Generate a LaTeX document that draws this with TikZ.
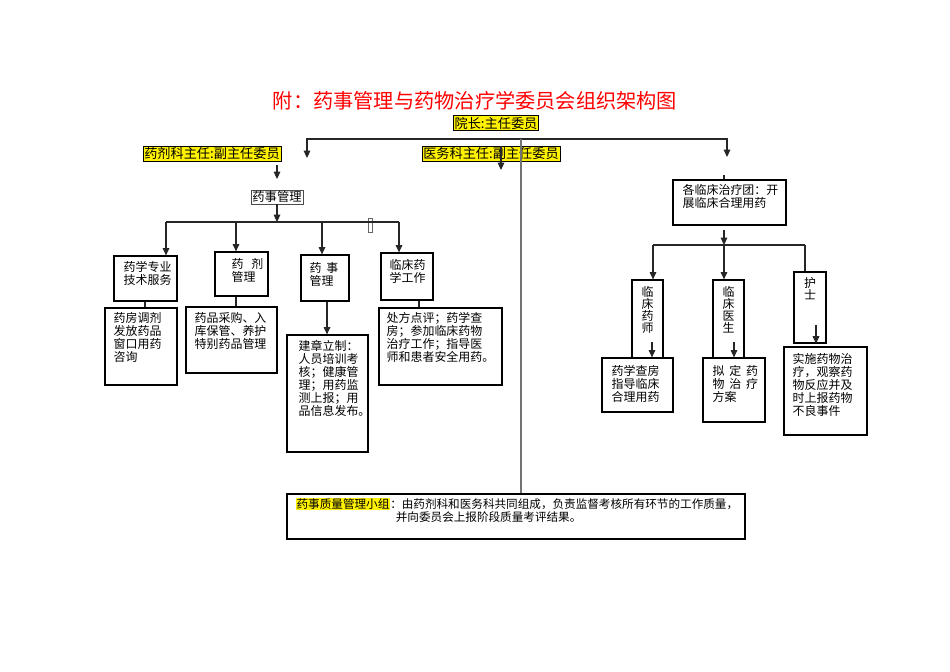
\documentclass[tikz,border=0pt]{standalone}
\usepackage{fontspec}
\setmainfont{Noto Sans CJK SC}
\usetikzlibrary{arrows.meta,fit}
\tikzset{
  box/.style={draw, inner sep=0pt, line width=0.7pt},
  txt/.style={inner sep=0pt, align=left, anchor=north west, font=\fontsize{6.8}{7.4}\selectfont},
  vtxt/.style={inner sep=0pt, align=center, anchor=north, font=\fontsize{6.8}{6.8}\selectfont},
  tag/.style={draw, fill=yellow, inner sep=0.8pt, font=\fontsize{7.5}{8}\selectfont},
  link/.style={black!85, line width=0.6pt},
  arr/.style={link, -{Triangle[length=4.2pt,width=3.8pt]}},
  spine/.style={black!55, line width=0.9pt}
}

\begin{document}
\begin{tikzpicture}[x=0.02cm, y=-0.02cm]
  \useasboundingbox (0,0) rectangle (950,672);
  \node[text=red, inner sep=0pt, font=\fontsize{11.5}{12}\selectfont] (title) at (475,101) {附：药事管理与药物治疗学委员会组织架构图};
  \node[tag] (yz) at (496,123) {院长:主任委员};
  \node[tag] (yjk) at (212,154) {药剂科主任:副主任委员};
  \node[tag] (ywk) at (491,154) {医务科主任:副主任委员};
  \node[draw=black!70, inner sep=0.8pt, font=\fontsize{7}{8}\selectfont] (ysgl) at (277,197) {药事管理};

  \node[box, fit={(114,256) (177,301)}] (b1) {};
  \node[box, fit={(215,252) (268,296)}] (b2) {};
  \node[box, fit={(301,255) (349,301)}] (b3) {};
  \node[box, fit={(381,253) (433,300)}] (b4) {};
  \node[box, fit={(105,308) (177,385)}] (c1) {};
  \node[box, fit={(186,307) (277,373)}] (c2) {};
  \node[box, fit={(287,335) (368,452)}] (c3) {};
  \node[box, fit={(379,308) (502,385)}] (c4) {};
  \node[draw=black!60, inner sep=0pt, line width=0.4pt, fit={(368,218) (372,232)}] (mk) {};

  \node[box, fit={(673,180) (786,225)}] (g) {};
  \node[box, fit={(632,280) (663,358)}] (k1) {};
  \node[box, fit={(713,280) (744,358)}] (k2) {};
  \node[box, fit={(794,272) (826,343)}] (k3) {};
  \node[box, fit={(602,358) (673,412)}] (d1) {};
  \node[box, fit={(703,358) (765,422)}] (d2) {};
  \node[box, fit={(784,347) (867,435)}] (d3) {};
  \node[box, fit={(287,494) (745,539)}] (q) {};

  \node[txt] (tb1) at ([shift={(10,6)}]b1.north west) {药学专业\\技术服务};
  \node[txt] (tb2) at ([shift={(17,7)}]b2.north west) {药\hspace{0.65em}剂\\管理};
  \node[txt] (tb3) at ([shift={(9,8)}]b3.north west) {药\hspace{0.4em}事\\管理};
  \node[txt] (tb4) at ([shift={(9,7)}]b4.north west) {临床药\\学工作};
  \node[txt] (tc1) at ([shift={(9,5)}]c1.north west) {药房调剂\\发放药品\\窗口用药\\咨询};
  \node[txt] (tc2) at ([shift={(9,6)}]c2.north west) {药品采购、入\\库保管、养护\\特别药品管理};
  \node[txt] (tc3) at ([shift={(12,6)}]c3.north west) {建章立制：\\人员培训考\\核；健康管\\理；用药监\\测上报；用\\品信息发布。};
  \node[txt] (tc4) at ([shift={(8,5)}]c4.north west) {处方点评；药学查\\房；参加临床药物\\治疗工作；指导医\\师和患者安全用药。};
  \node[txt] (tg) at ([shift={(10,5)}]g.north west) {各临床治疗团：开\\展临床合理用药};
  \node[vtxt] (tk1) at ([shift={(0,7)}]k1.north) {临\\床\\药\\师};
  \node[vtxt] (tk2) at ([shift={(0,7)}]k2.north) {临\\床\\医\\生};
  \node[vtxt] (tk3) at ([shift={(0,6)}]k3.north) {护\\士};
  \node[txt] (td1) at ([shift={(10,8)}]d1.north west) {药学查房\\指导临床\\合理用药};
  \node[txt] (td2) at ([shift={(10,8)}]d2.north west) {拟\hspace{0.4em}定\hspace{0.4em}药\\物\hspace{0.4em}治\hspace{0.4em}疗\\方案};
  \node[txt] (td3) at ([shift={(9,7)}]d3.north west) {实施药物治\\疗，观察药\\物反应并及\\时上报药物\\不良事件};
  \node[txt, font=\fontsize{6.6}{6.6}\selectfont] (tq) at ([shift={(9,4)}]q.north west) {\setlength{\fboxsep}{0.5pt}\colorbox{yellow}{药事质量管理小组}：由药剂科和医务科共同组成，负责监督考核所有环节的工作质量，\\\hspace{57pt}并向委员会上报阶段质量考评结果。};

  \coordinate (hM) at (521,139);
  \coordinate (aL) at (307,158);
  \coordinate (aR) at (727,157);
  \draw[arr] (hM) -| (aL);
  \draw[arr] (hM) -| (aR);
  \draw[spine] (hM) -- (hM |- q.north);
  \coordinate (m1) at (501,146);
  \coordinate (m2) at (501,170);
  \draw[arr] (m1) -- (m2);

  \coordinate (j1) at (277,165);
  \coordinate (j2) at (277,179);
  \draw[arr] (j1) -- (j2);
  \coordinate (bL) at (166,222);
  \coordinate (bR) at (399,222);
  \draw[arr] (ysgl.south) -- (ysgl.south |- bL);
  \draw[link] (bL) -- (bR);
  \foreach \x/\n in {166/b1, 236/b2, 322/b3, 399/b4} {
    \coordinate (p) at (\x,222);
    \draw[arr] (p) -- (p |- \n.north);
  }
  \foreach \x/\u/\l/\s in {145/b1/c1/link, 236/b2/c2/link, 327/b3/c3/arr, 419/b4/c4/link} {
    \coordinate (p) at (\x,0);
    \draw[\s] (p |- \u.south) -- (p |- \l.north);
  }

  \coordinate (g0) at (724,175);
  \draw[link] (g0) -- (g0 |- g.north);
  \coordinate (g1) at (724,230);
  \coordinate (gb) at (724,245);
  \coordinate (gL) at (653,245);
  \coordinate (gR) at (805,245);
  \draw[arr] (g1) -- (gb);
  \draw[link] (gL) -- (gR);
  \draw[arr] (gL) -- (gL |- k1.north);
  \draw[arr] (gb) -- (gb |- k2.north);
  \draw[link] (gR) -- (gR |- k3.north);
  \coordinate (e1) at (652,342);
  \coordinate (e2) at (734,342);
  \coordinate (e3) at (816,325);
  \draw[arr] (e1) -- (e1 |- d1.north);
  \draw[arr] (e2) -- (e2 |- d2.north);
  \draw[arr] (e3) -- (e3 |- k3.south);
\end{tikzpicture}
\end{document}
